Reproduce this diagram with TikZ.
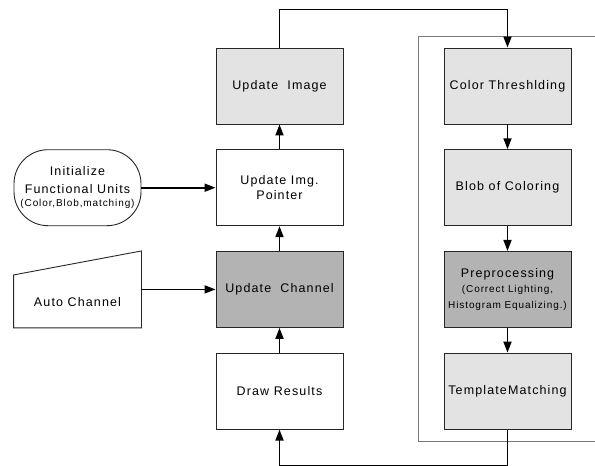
\documentclass[tikz,border=0pt]{standalone}
\usepackage{fontspec}
\setmainfont{Liberation Sans}[LetterSpace=9]
\usetikzlibrary{arrows.meta}

\definecolor{boxlight}{RGB}{227,227,227}
\definecolor{boxdark}{RGB}{179,179,179}
\definecolor{framegray}{RGB}{120,120,120}

\tikzstyle{term} = [draw=black!85, line width=0.9pt, text centered, align=center,%
                    minimum width = 127pt, minimum height = 76pt, inner sep=1pt, anchor=center,%
                    font=\fontsize{12.5}{15.5}\selectfont]
\tikzstyle{flow} = [line width=1.7pt, -{Triangle[length=11pt, width=8pt]}]
\newcommand{\subtext}[1]{{\fontsize{10}{14}\selectfont #1}}

\begin{document}
\begin{tikzpicture}[node distance = 101.7pt]
	\useasboundingbox (0,0) rectangle (595pt,-466pt);

	\node (image)   [term, fill=boxlight] at (279.5pt,-86pt) {Update~ Image};
	\node (pointer) [term, below of = image] {Update Img.\\Pointer};
	\node (channel) [term, fill=boxdark, below of = pointer] {Update~ Channel};
	\node (results) [term, below of = channel] {Draw Results};

	\node (thresh) [term, fill=boxlight, right of = image, node distance = 228pt] {Color Threshlding};
	\node (blob)   [term, fill=boxlight, below of = thresh] {Blob of Coloring};
	\node (prep)   [term, fill=boxdark, below of = blob] {Preprocessing\\\subtext{(Correct Lighting,}\\\subtext{Histogram Equalizing.)}};
	\node (match)  [term, fill=boxlight, below of = prep] {TemplateMatching};

	\node (init) [term, rounded corners=34pt, left of = pointer, node distance = 202pt] {Initialize\\[2pt]Functional Units\\[-2pt]\subtext{(Color,Blob,matching)}};
	\node (auto) [term, draw=none, left of = channel, node distance = 202pt] {};
	\draw[draw=black!85, line width=0.9pt] (auto.south west) -- (auto.south east) -- (auto.north east) -- ([yshift=-24pt]auto.north west) -- cycle;
	\node (autolabel) [font=\fontsize{12.5}{15.5}\selectfont, below of = auto, node distance = 13pt] {Auto Channel};

	% frame round the recognition steps
	\draw[framegray, line width=0.8pt] (595pt,-36pt) -| (418pt,-441pt) -- (595pt,-441pt);

	\draw[flow] (init) -- (pointer);
	\draw[flow] (auto) -- (channel);
	\draw[flow] (results) -- (channel);
	\draw[flow] (channel) -- (pointer);
	\draw[flow] (pointer) -- (image);
	\draw[flow] (thresh) -- (blob);
	\draw[flow] (blob) -- (prep);
	\draw[flow] (prep) -- (match);

	\draw[flow] (image.north) -- ++(0,38pt) -| (thresh.north);
	\draw[flow] (match.south) -- ++(0,-36.5pt) -| (results.south);
\end{tikzpicture}
\end{document}
